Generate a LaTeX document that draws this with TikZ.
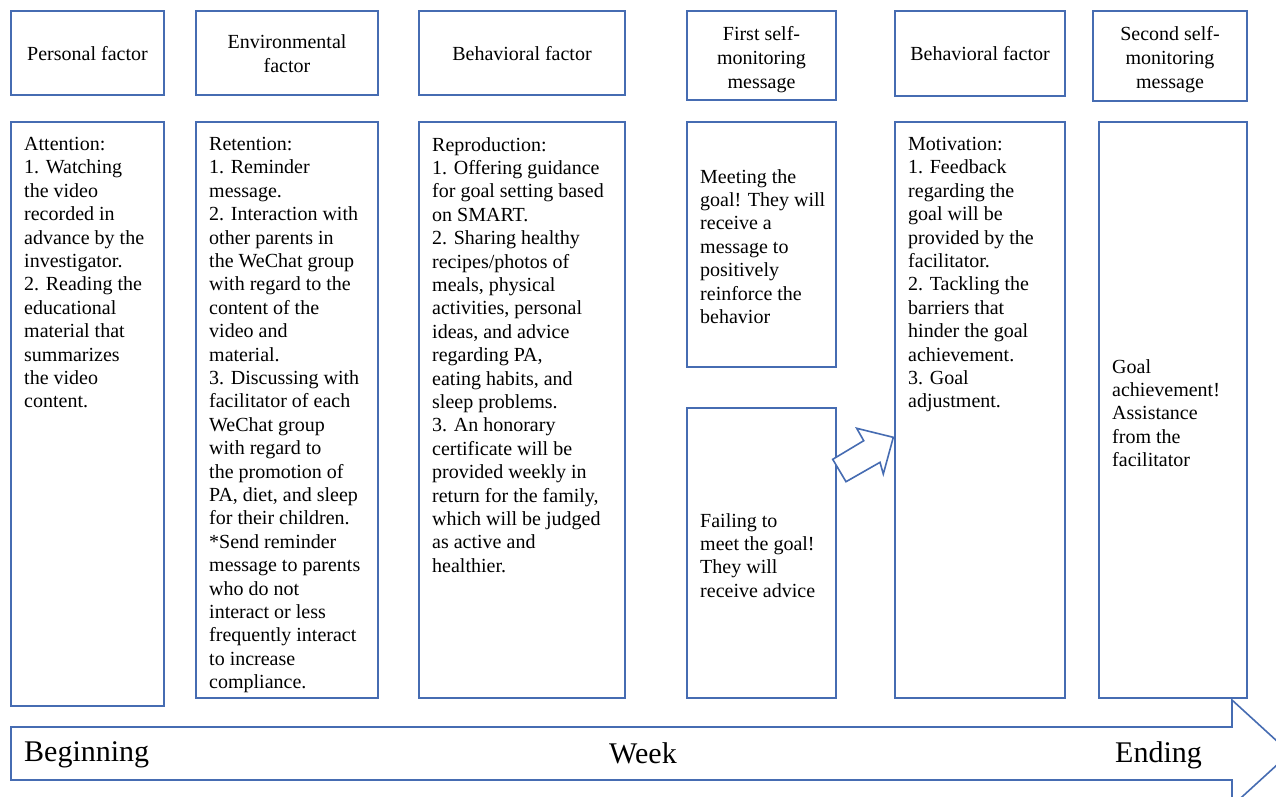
\documentclass[tikz,border=0pt]{standalone}
\usepackage{fontspec}
\setmainfont{Liberation Serif}
\definecolor{bc}{RGB}{70,108,178}
\begin{document}
\begin{tikzpicture}[x=1pt,y=-1pt,
  box/.style={draw=bc,line width=1.6pt},
  hd/.style={inner sep=0pt,align=center,font=\fontsize{20}{24}\selectfont},
  bd/.style={inner sep=0pt,anchor=north west,align=left,font=\fontsize{20}{23.4}\selectfont},
  big/.style={inner sep=0pt,font=\fontsize{30}{34}\selectfont}]
\clip (0,0) rectangle (1276,796);
\fill[white] (0,0) rectangle (1276,796);
% top header boxes
\draw[box] (11,11) rectangle (164,95);
\draw[box] (196,11) rectangle (378,95);
\draw[box] (419,11) rectangle (625,95);
\draw[box] (687,11) rectangle (836,100);
\draw[box] (895,11) rectangle (1065,96);
\draw[box] (1093,11) rectangle (1247,101);
\node[hd] (h1) at (87.5,54) {Personal factor};
\node[hd] (h2) at (287,54) {Environmental\\factor};
\node[hd] (h3) at (522,54) {Behavioral factor};
\node[hd] (h4) at (761.5,60) {First self-\\monitoring\\message};
\node[hd] (h5) at (980,54) {Behavioral factor};
\node[hd] (h6) at (1170,60) {Second self-\\monitoring\\message};
% content boxes
\draw[box] (11,122) rectangle (164,706);
\draw[box] (196,122) rectangle (378,698);
\draw[box] (419,122) rectangle (625,698);
\draw[box] (687,122) rectangle (836,367);
\draw[box] (687,408) rectangle (836,698);
\draw[box] (895,122) rectangle (1065,698);
\draw[box] (1099,122) rectangle (1247,698);
\node[bd] (t1) at (24,137) {Attention:\\1. Watching\\the video\\recorded in\\advance by the\\investigator.\\2. Reading the\\educational\\material that\\summarizes\\the video\\content.};
\node[bd] (t2) at (209,137) {Retention:\\1. Reminder\\message.\\2. Interaction with\\other parents in\\the WeChat group\\with regard to the\\content of the\\video and\\material.\\3. Discussing with\\facilitator of each\\WeChat group\\with regard to\\the promotion of\\PA, diet, and sleep\\for their children.\\*Send reminder\\message to parents\\who do not\\interact or less\\frequently interact\\to increase\\compliance.};
\node[bd] (t3) at (432,137) {Reproduction:\\1. Offering guidance\\for goal setting based\\on SMART.\\2. Sharing healthy\\recipes/photos of\\meals, physical\\activities, personal\\ideas, and advice\\regarding PA,\\eating habits, and\\sleep problems.\\3. An honorary\\certificate will be\\provided weekly in\\return for the family,\\which will be judged\\as active and\\healthier.};
\node[bd] (t4) at (700,169) {Meeting the\\goal! They will\\receive a\\message to\\positively\\reinforce the\\behavior};
\node[bd] (t5) at (700,513) {Failing to\\meet the goal!\\They will\\receive advice};
\node[bd] (t6) at (908,137) {Motivation:\\1. Feedback\\regarding the\\goal will be\\provided by the\\facilitator.\\2. Tackling the\\barriers that\\hinder the goal\\achievement.\\3. Goal\\adjustment.};
\node[bd] (t7) at (1112,359) {Goal\\achievement!\\Assistance\\from the\\facilitator};
% hollow arrow between
\draw[box,fill=white,line join=miter] (832.7,459.3) -- (863.7,440.7) -- (856.7,428.3) -- (893.3,437.3) -- (883.3,474) -- (880,462.3) -- (846,481.7) -- cycle;
% bottom timeline arrow
\draw[box,line join=miter] (11,727) -- (1232,727) -- (1232,700) -- (1290,753) -- (1232,806) -- (1232,780) -- (11,780) -- cycle;
\node[big,anchor=west] (b1) at (24,755) {Beginning};
\node[big] (b2) at (643,753) {Week};
\node[big,anchor=west] (b3) at (1115,755) {Ending};
\end{tikzpicture}
\end{document}
